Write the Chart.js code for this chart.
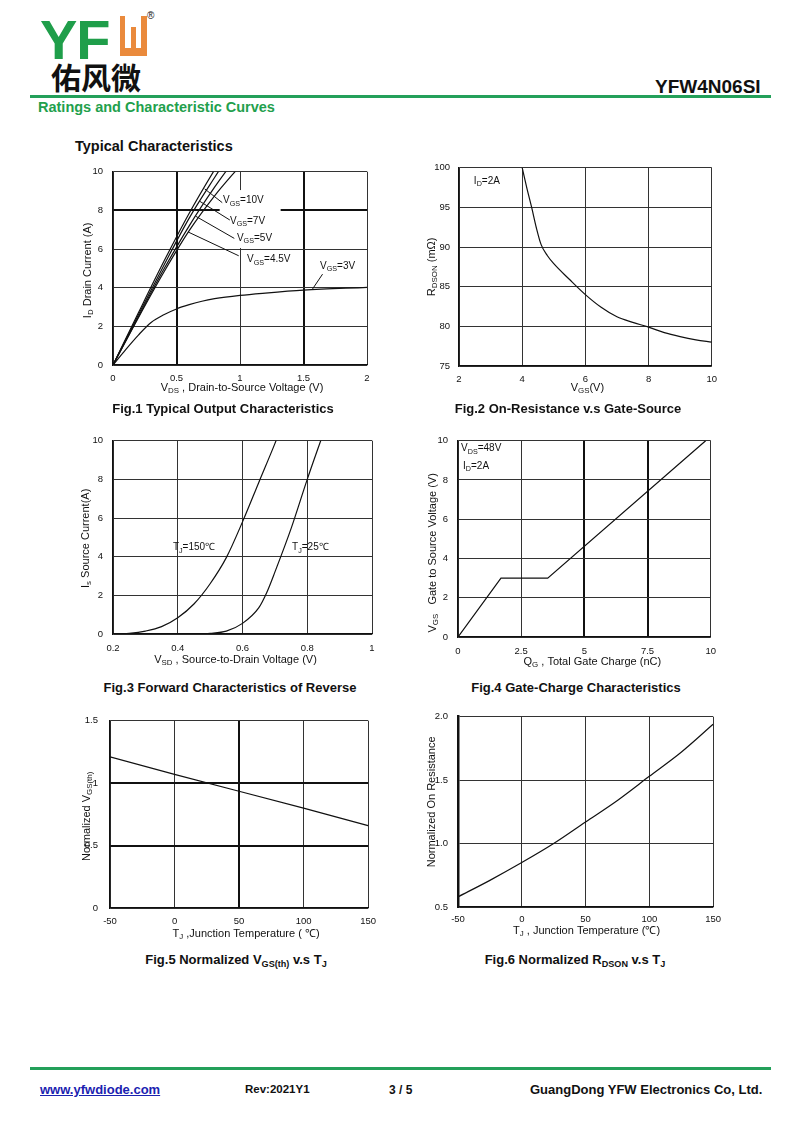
<!DOCTYPE html>
<html>
<head>
<meta charset="utf-8">
<script src="https://cdn.jsdelivr.net/npm/chart.js@4.4.1/dist/chart.umd.min.js"></script>
<style>
  body { margin: 0; width: 800px; height: 1130px; background: #fff; position: relative; font-family: "Liberation Sans", Arial, sans-serif; color: #111; overflow: hidden; }
  .abs { position: absolute; white-space: nowrap; line-height: 1; }
  .bold { font-weight: bold; }
  .cap { position: absolute; width: 400px; text-align: center; font-weight: bold; font-size: 13px; line-height: 1; white-space: nowrap; }
  sub { font-size: 70%; vertical-align: -3px; line-height: 0; }
  .box { position: absolute; }
  .rule { position: absolute; left: 30px; width: 741px; height: 3px; background: #23a05a; }
</style>
</head>
<body>

<!-- header -->
<div class="abs bold" style="left:40px; top:12px; font-size:56px; color:#1f9e4a; letter-spacing:-1px;">YF</div>
<div class="abs" style="left:120px; top:16px; width:27px; height:40px; background:#ea8a3c;"></div>
<div class="abs" style="left:125px; top:16px; width:16px; height:32px; background:#fff;"></div>
<div class="abs" style="left:131px; top:27px; width:5px; height:21px; background:#ea8a3c;"></div>
<div class="abs" style="left:147px; top:11px; font-size:10px;">®</div>
<div class="abs bold" style="left:51px; top:61px; font-size:30px; font-family:'Noto Sans CJK SC', sans-serif;">佑风微</div>
<div class="abs bold" style="left:655px; top:77px; font-size:19px;">YFW4N06SI</div>
<div class="rule" style="top:95px;"></div>
<div class="abs bold" style="left:38px; top:100px; font-size:14.5px; color:#22a04c;">Ratings and Characteristic Curves</div>
<div class="abs bold" style="left:75px; top:139px; font-size:14.5px;">Typical Characteristics</div>

<!-- charts -->
<div class="box" id="b1"><canvas id="c1"></canvas></div>
<div class="box" id="b2"><canvas id="c2"></canvas></div>
<div class="box" id="b3"><canvas id="c3"></canvas></div>
<div class="box" id="b4"><canvas id="c4"></canvas></div>
<div class="box" id="b5"><canvas id="c5"></canvas></div>
<div class="box" id="b6"><canvas id="c6"></canvas></div>

<!-- captions -->
<div class="cap" style="left:23px; top:402px;">Fig.1 Typical Output Characteristics</div>
<div class="cap" style="left:368px; top:402px;">Fig.2 On-Resistance v.s Gate-Source</div>
<div class="cap" style="left:30px; top:681px;">Fig.3 Forward Characteristics of Reverse</div>
<div class="cap" style="left:376px; top:681px;">Fig.4 Gate-Charge Characteristics</div>
<div class="cap" style="left:36px; top:953px;">Fig.5 Normalized V<sub>GS(th)</sub> v.s T<sub>J</sub></div>
<div class="cap" style="left:375px; top:953px;">Fig.6 Normalized R<sub>DSON</sub> v.s T<sub>J</sub></div>

<!-- footer -->
<div class="rule" style="top:1067px;"></div>
<div class="abs bold" style="left:40px; top:1083px; font-size:13px; color:#1a22b0; text-decoration:underline;">www.yfwdiode.com</div>
<div class="abs bold" style="left:245px; top:1084px; font-size:11.5px;">Rev:2021Y1</div>
<div class="abs bold" style="left:389px; top:1084px; font-size:12px;">3 / 5</div>
<div class="abs bold" style="left:530px; top:1083px; font-size:13px;">GuangDong YFW Electronics Co, Ltd.</div>

<script>
// Fig.1 typical output characteristics: VDS (V) -> ID (A)
const fig1Vds = [0, 0.2, 0.4, 0.6, 0.8, 1.0];
const fig1Vgs10 = [0, 2.7, 5.35, 7.85, 10.1, 12.2];
const fig1Vgs7 = [0, 2.6, 5.15, 7.6, 9.7, 11.7];
const fig1Vgs5 = [0, 2.5, 4.95, 7.2, 9.2, 11.0];
const fig1Vgs45 = [0, 2.45, 4.8, 6.95, 8.75, 10.3];
const fig1Vds3 = [0, 0.1, 0.2, 0.3, 0.4, 0.5, 0.6, 0.7, 0.8, 1.0, 1.2, 1.5, 2.0];
const fig1Vgs3 = [0, 0.8, 1.55, 2.2, 2.6, 2.9, 3.12, 3.3, 3.43, 3.6, 3.72, 3.87, 4.02];
const fig1XTicks = [0, 0.5, 1, 1.5, 2];
const fig1YTicks = [0, 2, 4, 6, 8, 10];

// Fig.2 on-resistance vs gate-source voltage, ID = 2A
const fig2Vgs = [4, 4.15, 4.3, 4.45, 4.6, 4.8, 5, 5.5, 6, 6.5, 7, 7.5, 8, 8.5, 9, 9.5, 10];
const fig2Rdson = [100, 97.4, 95, 92.4, 90.3, 88.9, 87.9, 85.9, 84, 82.4, 81.2, 80.5, 79.9, 79.2, 78.7, 78.3, 78];
const fig2XTicks = [2, 4, 6, 8, 10];
const fig2YTicks = [75, 80, 85, 90, 95, 100];

// Fig.3 body diode forward characteristics: VSD (V) -> IS (A)
const fig3Vsd150 = [0.22, 0.25, 0.3, 0.35, 0.4, 0.45, 0.5, 0.55, 0.6, 0.65, 0.7, 0.75];
const fig3Is150 = [0, 0.03, 0.15, 0.38, 0.84, 1.55, 2.6, 3.95, 5.8, 7.83, 9.85, 12];
const fig3Vsd25 = [0.4, 0.45, 0.5, 0.55, 0.6, 0.65, 0.675, 0.7, 0.75, 0.8, 0.85];
const fig3Is25 = [0, 0.01, 0.04, 0.15, 0.55, 1.35, 2.15, 3.2, 5.45, 8.0, 10.4];
const fig3XTicks = [0.2, 0.4, 0.6, 0.8, 1];
const fig3YTicks = [0, 2, 4, 6, 8, 10];

// Fig.4 gate charge: QG (nC) -> VGS (V)
const fig4Qg = [0, 1.7, 3.55, 9.8];
const fig4Vgs = [0, 3, 3, 10];
const fig4XTicks = [0, 2.5, 5, 7.5, 10];
const fig4YTicks = [0, 2, 4, 6, 8, 10];

// Fig.5 normalized VGS(th) vs TJ
const fig5Tj = [-50, 0, 50, 100, 150];
const fig5Vth = [1.21, 1.07, 0.935, 0.8, 0.66];
const fig5XTicks = [-50, 0, 50, 100, 150];
const fig5YTicks = [0, 0.5, 1, 1.5];

// Fig.6 normalized RDSON vs TJ
const fig6Tj = [-50, -25, 0, 25, 50, 75, 100, 125, 150];
const fig6Rdson = [0.58, 0.71, 0.85, 1.0, 1.17, 1.34, 1.53, 1.72, 1.94];
const fig6XTicks = [-50, 0, 50, 100, 150];
const fig6YTicks = [0.5, 1, 1.5, 2];

const FONT = '"Liberation Sans", Arial, sans-serif';
const PAD_L = 55, PAD_T = 10, PAD_R = 12, PAD_B = 40;

// parts: plain strings, or strings starting with '_' for subscripts
function drawRich(ctx, parts, x, y, size, align) {
  const items = parts.map((p) => {
    const sub = p.startsWith('_');
    const text = sub ? p.slice(1) : p;
    const font = `${sub ? size * 0.72 : size}px ${FONT}`;
    ctx.font = font;
    return { text, sub, font, w: ctx.measureText(text).width };
  });
  const total = items.reduce((s, it) => s + it.w, 0);
  let cx = align === 'center' ? x - total / 2 : x;
  ctx.textAlign = 'left';
  ctx.textBaseline = 'middle';
  items.forEach((it) => {
    ctx.font = it.font;
    ctx.fillText(it.text, cx, it.sub ? y + size * 0.3 : y);
    cx += it.w;
  });
}

const decor = (spec) => ({
  id: 'decor',
  beforeDatasetsDraw(chart) {
    if (!spec.mask) return;
    const { ctx, scales: { x, y } } = chart;
    const m = spec.mask;
    ctx.save();
    ctx.fillStyle = '#fff';
    const px1 = x.getPixelForValue(m[0]), px2 = x.getPixelForValue(m[1]);
    const py1 = y.getPixelForValue(m[3]), py2 = y.getPixelForValue(m[2]);
    ctx.fillRect(px1, py1, px2 - px1, py2 - py1);
    ctx.restore();
  },
  afterDraw(chart) {
    const { ctx, chartArea: a, scales: { x, y } } = chart;
    ctx.save();
    ctx.fillStyle = '#111';
    ctx.strokeStyle = '#111';
    ctx.lineWidth = 1;
    (spec.leaders || []).forEach(([x1, y1, x2, y2]) => {
      ctx.beginPath();
      ctx.moveTo(x.getPixelForValue(x1), y.getPixelForValue(y1));
      ctx.lineTo(x.getPixelForValue(x2), y.getPixelForValue(y2));
      ctx.stroke();
    });
    (spec.labels || []).forEach((l) => {
      drawRich(ctx, l.t, x.getPixelForValue(l.x), y.getPixelForValue(l.y), 10, 'left');
    });
    const [xParts, xdx, xdy] = spec.xTitle;
    drawRich(ctx, xParts, (a.left + a.right) / 2 + xdx, a.bottom + xdy, 11, 'center');
    const [yParts, ydx, ydy] = spec.yTitle;
    ctx.translate(a.left + ydx, (a.top + a.bottom) / 2 + ydy);
    ctx.rotate(-Math.PI / 2);
    drawRich(ctx, yParts, 0, 0, 11, 'center');
    ctx.restore();
  },
});

function axis(ticks, min, max, bold, fmt, extra) {
  return Object.assign({
    type: 'linear',
    min, max,
    afterBuildTicks: (s) => { s.ticks = ticks.map((v) => ({ value: v })); },
    ticks: { callback: fmt || ((v) => String(v)), font: { family: FONT, size: 9.5 }, color: '#111', maxRotation: 0, autoSkip: false },
    grid: {
      drawTicks: false,
      color: (c) => (bold.includes(c.tick && c.tick.value) ? '#111' : '#333'),
      lineWidth: (c) => (bold.includes(c.tick && c.tick.value) ? 2 : 1),
    },
    border: { color: '#111', width: 1.3 },
  }, extra || {});
}

function makeChart(n, plot, series, xs, ys, spec) {
  const box = document.getElementById('b' + n);
  box.style.left = (plot.L - PAD_L) + 'px';
  box.style.top = (plot.T - PAD_T) + 'px';
  box.style.width = (plot.R - plot.L + PAD_L + PAD_R) + 'px';
  box.style.height = (plot.B - plot.T + PAD_T + PAD_B) + 'px';
  xs.ticks.padding = spec.xPad;
  ys.ticks.padding = spec.yPad;
  xs.afterFit = (s) => { s.height = PAD_B; };
  ys.afterFit = (s) => { s.width = PAD_L; };
  return new Chart(document.getElementById('c' + n), {
    type: 'scatter',
    data: {
      datasets: series.map((s) => ({
        data: s.x.map((v, i) => ({ x: v, y: s.y[i] })),
        showLine: true,
        borderColor: '#111',
        borderWidth: 1.2,
        pointRadius: 0,
        cubicInterpolationMode: s.straight ? 'default' : 'monotone',
        tension: 0,
      })),
    },
    options: {
      responsive: true,
      maintainAspectRatio: false,
      animation: false,
      layout: { padding: { left: 0, top: PAD_T, right: PAD_R, bottom: 0 } },
      plugins: { legend: { display: false }, tooltip: { enabled: false } },
      scales: { x: xs, y: ys },
    },
    plugins: [decor(spec)],
  });
}

makeChart(1, { L: 113, T: 166, R: 367, B: 365 },
  [
    { x: fig1Vds, y: fig1Vgs10 },
    { x: fig1Vds, y: fig1Vgs7 },
    { x: fig1Vds, y: fig1Vgs5 },
    { x: fig1Vds, y: fig1Vgs45 },
    { x: fig1Vds3, y: fig1Vgs3 },
  ],
  axis(fig1XTicks, 0, 2, [0.5, 1.5]),
  axis(fig1YTicks, 0, 10, [8]),
  {
    xPad: 8, yPad: 10,
    xTitle: [['V', '_DS', ' , Drain-to-Source Voltage (V)'], 2, 23],
    yTitle: [['I', '_D', ' Drain Current (A)'], -25, 2],
    mask: [0.84, 1.32, 6.05, 9.05],
    leaders: [[0.722, 9.11, 0.86, 8.4], [0.683, 8.47, 0.92, 7.5], [0.65, 7.7, 0.955, 6.55], [0.592, 6.88, 0.99, 5.65], [1.57, 3.92, 1.65, 4.7]],
    labels: [
      { x: 0.866, y: 8.5, t: ['V', '_GS', '=10V'] },
      { x: 0.921, y: 7.45, t: ['V', '_GS', '=7V'] },
      { x: 0.976, y: 6.55, t: ['V', '_GS', '=5V'] },
      { x: 1.055, y: 5.45, t: ['V', '_GS', '=4.5V'] },
      { x: 1.63, y: 5.1, t: ['V', '_GS', '=3V'] },
    ],
  });

makeChart(2, { L: 459, T: 163, R: 713, B: 366 },
  [{ x: fig2Vgs, y: fig2Rdson }],
  axis(fig2XTicks, 2, 10, []),
  axis(fig2YTicks, 75, 100, []),
  {
    xPad: 8, yPad: 9,
    xTitle: [['V', '_GS', '(V)'], 2, 22],
    yTitle: [['R', '_DSON', ' (mΩ)'], -27, 0],
    labels: [{ x: 2.47, y: 98.3, t: ['I', '_D', '=2A'] }],
  });

makeChart(3, { L: 113, T: 435, R: 372, B: 634 },
  [{ x: fig3Vsd150, y: fig3Is150 }, { x: fig3Vsd25, y: fig3Is25 }],
  axis(fig3XTicks, 0.2, 1, []),
  axis(fig3YTicks, 0, 10, []),
  {
    xPad: 9, yPad: 10,
    xTitle: [['V', '_SD', ' , Source-to-Drain Voltage (V)'], -7, 26],
    yTitle: [['I', '_s', ' Source Current(A)'], -27, 1],
    labels: [
      { x: 0.385, y: 4.47, t: ['T', '_J', '=150℃'] },
      { x: 0.753, y: 4.47, t: ['T', '_J', '=25℃'] },
    ],
  });

makeChart(4, { L: 458, T: 435, R: 713, B: 637 },
  [{ x: fig4Qg, y: fig4Vgs, straight: true }],
  axis(fig4XTicks, 0, 10, [5, 7.5]),
  axis(fig4YTicks, 0, 10, []),
  {
    xPad: 9, yPad: 10,
    xTitle: [['Q', '_G', ' , Total Gate Charge (nC)'], 8, 25],
    yTitle: [['V', '_GS', '   Gate to Source Voltage (V)'], -25, 14],
    labels: [
      { x: 0.12, y: 9.6, t: ['V', '_DS', '=48V'] },
      { x: 0.2, y: 8.7, t: ['I', '_D', '=2A'] },
    ],
  });

makeChart(5, { L: 110, T: 713, R: 372, B: 908 },
  [{ x: fig5Tj, y: fig5Vth, straight: true }],
  axis(fig5XTicks, -50, 150, [50]),
  axis(fig5YTicks, 0, 1.5, [0.5, 1]),
  {
    xPad: 8, yPad: 12,
    xTitle: [['T', '_J', ' ,Junction Temperature ( ℃)'], 7, 26],
    yTitle: [['Normalized V', '_GS(th)'], -23, 2],
  });

makeChart(6, { L: 458, T: 711, R: 716, B: 907 },
  [{ x: fig6Tj, y: fig6Rdson }],
  axis(fig6XTicks, -50, 150, []),
  axis(fig6YTicks, 0.5, 2, [], (v) => v.toFixed(1), { border: { color: '#111', width: 2.5 } }),
  {
    xPad: 7, yPad: 10,
    xTitle: [['T', '_J', ' , Junction Temperature (℃)'], 1, 24],
    yTitle: [['Normalized On Resistance'], -26, -10],
  });
</script>
</body>
</html>
